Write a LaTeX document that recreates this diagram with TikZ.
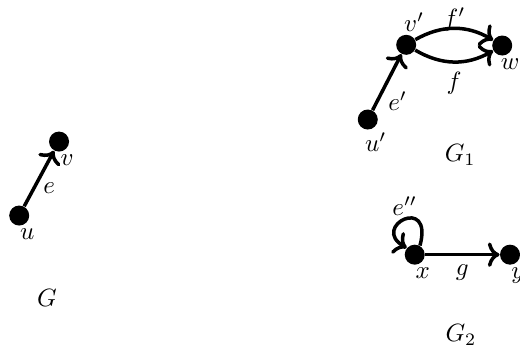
\documentclass[tikz,border=0pt]{standalone}
\usetikzlibrary{arrows.meta,positioning}

\begin{document}
\begin{tikzpicture}[>=To,
  vertex/.style={circle,fill=black,inner sep=0pt,minimum size=8pt},
  vlabel/.style={inner sep=1pt,label distance=0pt,xshift=3.2pt},
  arc/.style={->,line width=1.4pt}]
\useasboundingbox (0,0) rectangle (7.31,4.96);
% G
\node[vertex,label={[vlabel]below:$u$}] (u) at (0.27,1.93) {};
\node[vertex,label={[vlabel]below:$v$}] (v) at (0.83,2.97) {};
\draw[arc] (u) -- node[below right,inner sep=1pt] {$e$} (v);
\node (g) at (0.66,0.77) {$G$};
% G_1
\node[vertex,label={[vlabel]below:$u'$}] (u1) at (5.17,3.28) {};
\node[vertex,label={[vlabel]above:$v'$}] (v1) at (5.71,4.33) {};
\node[vertex,label={[vlabel]below:$w$}] (w1) at (7.06,4.32) {};
\draw[arc] (u1) -- node[pos=0.4,below right,inner sep=1pt] {$e'$} (v1);
\draw[arc] (v1) to[bend left=30] node[anchor=base,yshift=0.8pt] {$f'$} (w1);
\draw[arc] (v1) to[bend right=30] node[below] {$f$} (w1);
\node (g1) at (6.47,2.78) {$G_1$};
% G_2
\node[vertex,label={[vlabel]below:$x$}] (x2) at (5.83,1.38) {};
\node[vertex,label={[vlabel]below:$y$}] (y2) at (7.17,1.38) {};
\draw[arc] (x2.60) .. controls +(75:0.75) and +(150:0.6) .. node[above,inner sep=1pt] {$e''$} (x2.140);
\draw[arc] (x2) -- node[below] {$g$} (y2);
\node (g2) at (6.48,0.25) {$G_2$};
\end{tikzpicture}
\end{document}
